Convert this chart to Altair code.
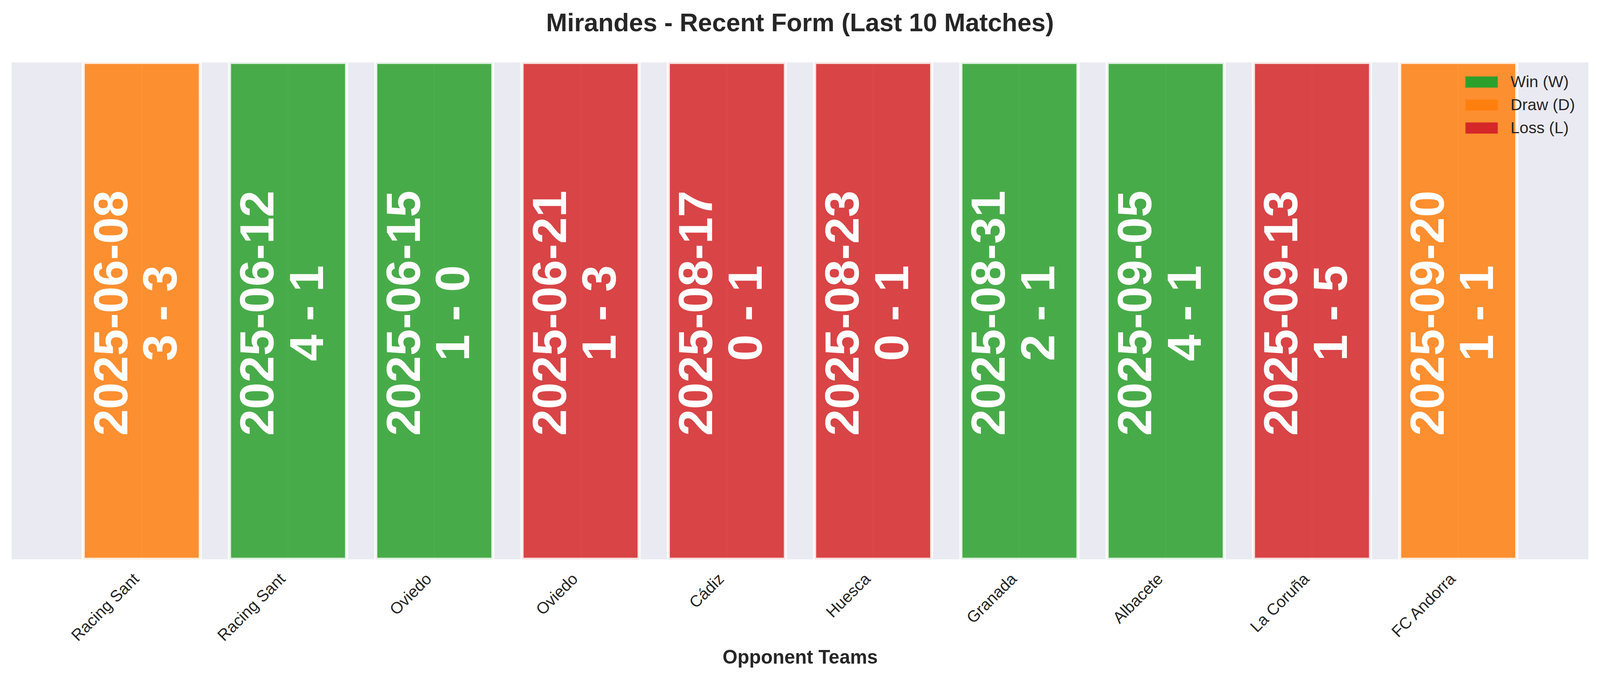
import json

import altair as alt
import pandas as pd

# --- data ------------------------------------------------------------------
teams = [
    "Racing Sant", "Racing Sant", "Oviedo", "Oviedo", "Cádiz",
    "Huesca", "Granada", "Albacete", "La Coruña", "FC Andorra",
]
dates = [
    "2025-06-08", "2025-06-12", "2025-06-15", "2025-06-21", "2025-08-17",
    "2025-08-23", "2025-08-31", "2025-09-05", "2025-09-13", "2025-09-20",
]
scores = ["3 - 3", "4 - 1", "1 - 0", "1 - 3", "0 - 1",
          "0 - 1", "2 - 1", "4 - 1", "1 - 5", "1 - 1"]
results = ["D", "W", "W", "L", "L", "L", "W", "W", "L", "D"]

result_names = {"W": "Win (W)", "D": "Draw (D)", "L": "Loss (L)"}
legend_order = ["Win (W)", "Draw (D)", "Loss (L)"]
result_colors = ["#2ca02c", "#ff7f0e", "#d62728"]

FONT = "Liberation Sans"
TEXT = "#262626"

df = pd.DataFrame({
    "idx": list(range(len(teams))),
    "team": teams,
    "date": dates,
    "score": scores,
    "result": [result_names[r] for r in results],
})
df["label"] = df["date"] + "\n" + df["score"]
df["y0"] = 0.0
df["y1"] = 1.0

# same opponent appears twice, so the axis runs on the match index
label_expr = json.dumps(teams, ensure_ascii=False) + "[datum.value]"

x_enc = alt.X(
    "idx:O",
    scale=alt.Scale(paddingInner=0.2, paddingOuter=0.49),
    axis=alt.Axis(
        title="Opponent Teams",
        labelExpr=label_expr,
        labelAngle=-45,
        labelAlign="right",
        labelBaseline="top",
        labelFontSize=42,
        labelFont=FONT,
        labelColor=TEXT,
        labelLimit=500,
        labelPadding=30,
        labelOffset=-28,
        ticks=False,
        domain=False,
        grid=True,
        gridColor="white",
        gridWidth=4,
        bandPosition=0.5,
        titleFontSize=50,
        titleFont=FONT,
        titleFontWeight="bold",
        titleColor=TEXT,
        titleBaseline="alphabetic",
        titleY=272,
    ),
)

bars = (
    alt.Chart(df)
    .mark_bar(fillOpacity=0.85, stroke="white", strokeWidth=8,
              strokeOpacity=0.85, clip=True)
    .encode(
        x=x_enc,
        y=alt.Y("y0:Q", scale=alt.Scale(domain=[0, 1]), axis=None),
        y2="y1:Q",
        color=alt.Color(
            "result:N",
            scale=alt.Scale(domain=legend_order, range=result_colors),
            legend=alt.Legend(
                title=None,
                orient="none",
                legendX=3783,
                legendY=30,
                padding=0,
                symbolType="M-1,-1H4.8V1H-1Z",
                symbolSize=841,
                symbolOpacity=1,
                symbolStrokeWidth=0,
                labelFont=FONT,
                labelFontSize=42,
                labelColor=TEXT,
                labelLimit=500,
                labelOffset=82,
                rowPadding=18,
            ),
        ),
    )
)

texts = (
    alt.Chart(df)
    .mark_text(angle=270, font=FONT, fontSize=125, fontWeight="bold",
               color="white", lineBreak="\n", lineHeight=129,
               align="center", baseline="middle", dx=-6, dy=-76)
    .encode(
        x=alt.X("idx:O"),
        y=alt.YDatum(0.5),
        text="label:N",
    )
)

chart = (
    (bars + texts)
    .properties(
        width=4110,
        height=1295,
        background="white",
        padding={"left": 22, "top": 5, "right": 22, "bottom": 5},
        title=alt.TitleParams(
            "Mirandes - Recent Form (Last 10 Matches)",
            font=FONT,
            fontSize=66,
            fontWeight="bold",
            color=TEXT,
            anchor="middle",
            baseline="alphabetic",
            offset=15,
        ),
    )
    .configure_view(fill="#EAEAF2", strokeWidth=0)
)

chart.save("out.html", embed_options={"renderer": "svg", "actions": False})
